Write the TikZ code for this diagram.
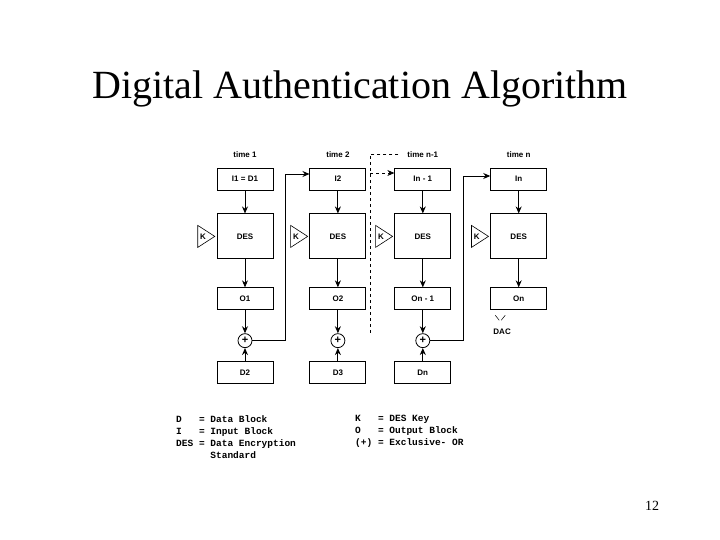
\documentclass[tikz,border=0pt]{standalone}
\usepackage{fontspec}
\setmainfont{Liberation Serif}
\setsansfont{Liberation Sans}
\setmonofont{Liberation Mono}
\usetikzlibrary{positioning, arrows.meta, shapes.geometric}

\begin{document}
\begin{tikzpicture}[
    x=1pt, y=1pt,
    blk/.style={rectangle, draw, line width=0.9pt, minimum width=56pt, minimum height=22pt, inner sep=0pt, font=\sffamily\bfseries\fontsize{8}{9}\selectfont},
    des/.style={blk, minimum height=45pt},
    xor/.style={circle, draw, line width=0.8pt, minimum size=14pt, inner sep=0pt, font=\sffamily\bfseries\fontsize{11}{11}\selectfont},
    keytri/.style={isosceles triangle, draw, line width=0.6pt, isosceles triangle stretches, minimum width=22pt, minimum height=17pt, inner sep=0pt, font=\sffamily\bfseries\fontsize{8}{9}\selectfont},
    lbl/.style={inner sep=1pt, font=\sffamily\bfseries\fontsize{8}{9}\selectfont},
    legend/.style={anchor=north west, inner sep=0pt, align=left, font=\ttfamily\bfseries\fontsize{9.5}{12}\selectfont},
    arr/.style={-{Stealth[length=7pt, width=6pt]}, line width=0.9pt}
]
    \useasboundingbox (0,0) rectangle (720,-540);

    \node[anchor=base, font=\fontsize{40}{48}\selectfont] (title) at (360,-99) {Digital Authentication Algorithm};

    % time 1
    \node[blk] (i1) at (245,-179) {I1 = D1};
    \node[des] (des1) [below=23pt of i1] {DES};
    \node[blk] (o1) [below=28pt of des1] {O1};
    \node[xor] (p1) [below=23pt of o1] {+};
    \node[blk] (d2) [below=13pt of p1] {D2};

    % time 2
    \node[blk] (i2) [right=36pt of i1] {I2};
    \node[des] (des2) [below=23pt of i2] {DES};
    \node[blk] (o2) [below=28pt of des2] {O2};
    \node[xor] (p2) [below=23pt of o2] {+};
    \node[blk] (d3) [below=13pt of p2] {D3};

    % time n-1
    \node[blk] (i3) [right=28pt of i2] {In - 1};
    \node[des] (des3) [below=23pt of i3] {DES};
    \node[blk] (o3) [below=28pt of des3] {On - 1};
    \node[xor] (p3) [below=23pt of o3] {+};
    \node[blk] (dn) [below=13pt of p3] {Dn};

    % time n
    \node[blk] (i4) [right=39pt of i3] {In};
    \node[des] (des4) [below=23pt of i4] {DES};
    \node[blk] (o4) [below=28pt of des4] {On};
    \node[lbl] (dac) [below right=17pt and 2pt of o4.south west] {DAC};

    \node[lbl, above=9pt of i1] (t1) {time 1};
    \node[lbl, above=9pt of i2] (t2) {time 2};
    \node[lbl, above=9pt of i3] (tn1) {time n-1};
    \node[lbl, above=9pt of i4] (tn) {time n};

    \node[keytri, left=1pt of des1] (k1) {K};
    \node[keytri, left=1pt of des2] (k2) {K};
    \node[keytri, left=1pt of des3] (k3) {K};
    \node[keytri, left=1pt of des4] (k4) {K};

    \draw[arr] (i1) -- (des1);
    \draw[arr] (des1) -- (o1);
    \draw[arr] (o1) -- (p1);
    \draw[arr] (d2) -- (p1);
    \draw[arr] (i2) -- (des2);
    \draw[arr] (des2) -- (o2);
    \draw[arr] (o2) -- (p2);
    \draw[arr] (d3) -- (p2);
    \draw[arr] (i3) -- (des3);
    \draw[arr] (des3) -- (o3);
    \draw[arr] (o3) -- (p3);
    \draw[arr] (dn) -- (p3);
    \draw[arr] (i4) -- (des4);
    \draw[arr] (des4) -- (o4);

    \draw[arr] (p1.east) -- ++(33pt,0) |- ([yshift=5pt]i2.west);
    \draw[arr] (p3.east) -- ++(33pt,0) |- ([yshift=3pt]i4.west);

    \coordinate (dend) at (370,-335);
    \coordinate (i3in) at ([yshift=6pt]i3.west);
    \draw[dashed, line width=0.7pt] ([xshift=-8pt]tn1.west) -| (dend);
    \draw[arr, dashed, line width=0.7pt] (i3in -| dend) -- (i3in);

    \draw[line width=0.5pt] ([shift={(5pt,-5pt)}]o4.south west) -- ++(4pt,-5pt);
    \draw[line width=0.5pt] ([shift={(15pt,-5pt)}]o4.south west) -- ++(-4pt,-5pt);

    \node[legend] (keyl) at (176,-415) {D\ \ \ = Data Block\\I\ \ \ = Input Block\\DES = Data Encryption\\\phantom{DES = }Standard};
    \node[legend] (keyr) at (355,-415) {K\ \ \ = DES Key\\O\ \ \ = Output Block\\(+) = Exclusive- OR};

    \node[anchor=base, font=\fontsize{14}{16}\selectfont] (page) at (652,-510) {12};
\end{tikzpicture}
\end{document}
